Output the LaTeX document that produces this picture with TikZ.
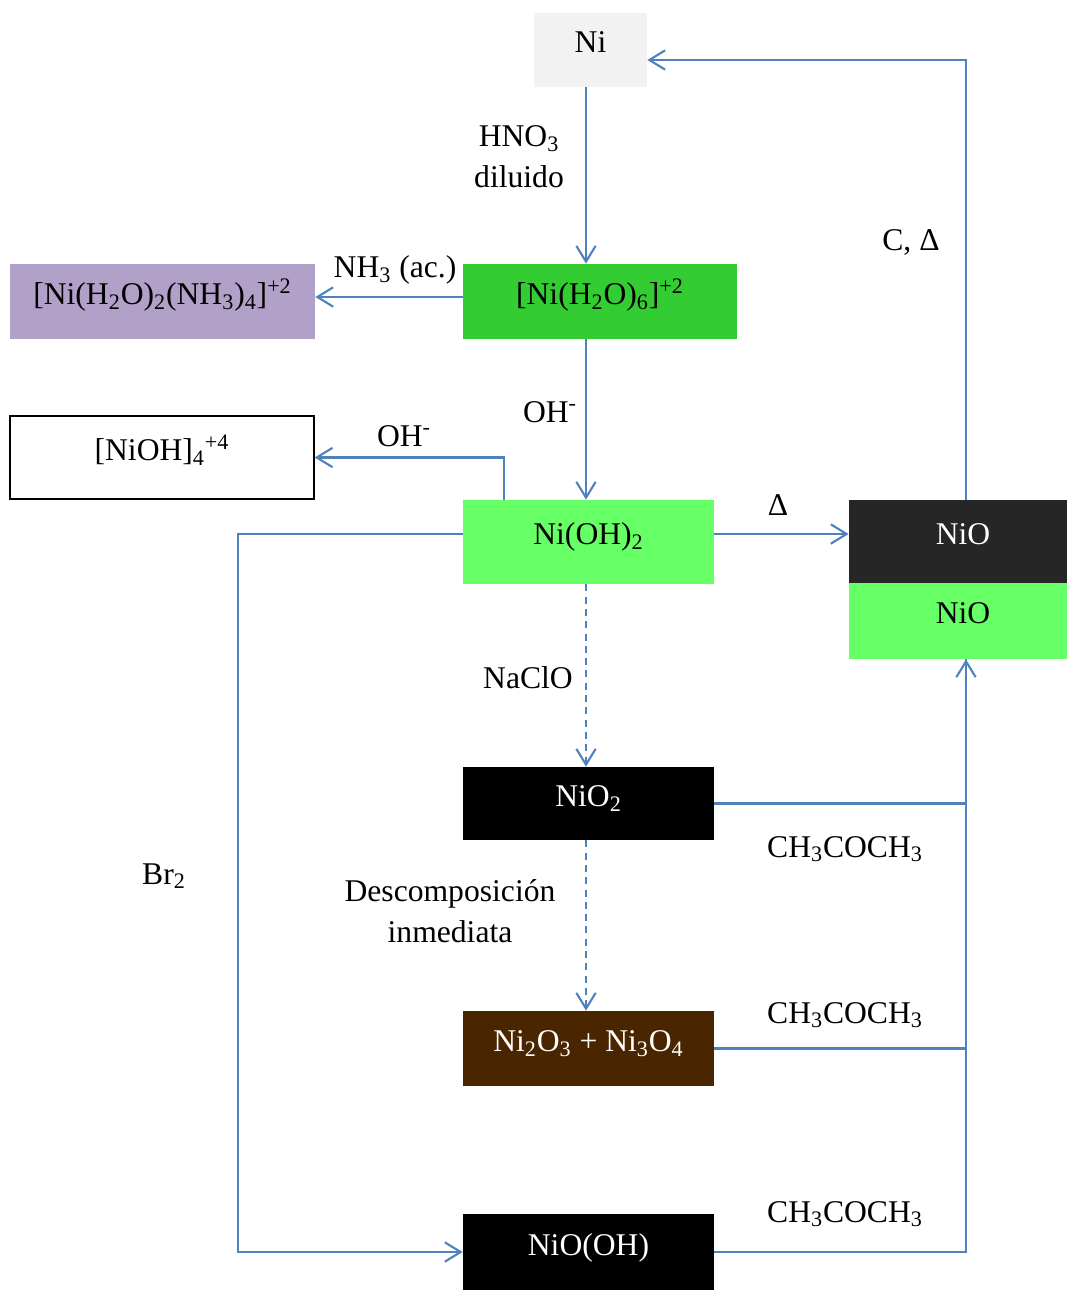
\documentclass[tikz,border=0pt]{standalone}
\usepackage{fontspec}
\setmainfont{Liberation Serif}
\usetikzlibrary{arrows.meta}

\definecolor{flowblue}{HTML}{4F81BD}
\definecolor{metalgray}{HTML}{F2F2F2}
\definecolor{hexagreen}{HTML}{33CC33}
\definecolor{amminelila}{HTML}{B1A0C7}
\definecolor{hydroxgreen}{HTML}{66FF66}
\definecolor{oxidegray}{HTML}{262626}
\definecolor{mixbrown}{HTML}{4A2600}

\tikzset{
  species/.style={rectangle, inner sep=0pt, text height=13pt, text depth=9.6pt,
    font=\fontsize{18}{23.4}\selectfont},
  reagent/.style={inner sep=0pt, align=center, font=\fontsize{18}{23.4}\selectfont},
  flow/.style={draw=flowblue, line width=1.2pt, -{Straight Barb[length=9pt,width=11pt]}},
  link/.style={draw=flowblue, line width=1.2pt},
  slow/.style={dash pattern=on 4pt off 3pt}
}

\begin{document}
\begin{tikzpicture}[x=0.02cm, y=-0.02cm]
\useasboundingbox (0,0) rectangle (1067,1290);

% nickel species
\node[species, fill=metalgray, minimum width=2.26cm, minimum height=1.48cm] (ni) at (590.5,50) {Ni};
\node[species, fill=hexagreen, minimum width=5.48cm, minimum height=1.5cm] (hexa) at (600,301.5)
  {[Ni(H\textsubscript{2}O)\textsubscript{6}]\textsuperscript{+2}};
\node[species, fill=amminelila, minimum width=6.1cm, minimum height=1.5cm] (ammine) at (162.5,301.5)
  {[Ni(H\textsubscript{2}O)\textsubscript{2}(NH\textsubscript{3})\textsubscript{4}]\textsuperscript{+2}};
\node[species, draw=black, line width=0.8pt, minimum width=6.08cm, minimum height=1.66cm] (tetramer) at (162,457.5)
  {[NiOH]\textsubscript{4}\textsuperscript{+4}};
\node[species, fill=hydroxgreen, minimum width=5.02cm, minimum height=1.68cm] (hydrox) at (588.5,542)
  {Ni(OH)\textsubscript{2}};
\node[species, fill=oxidegray, text=white, minimum width=4.56cm, minimum height=1.66cm] (niotop) at (963,541.5) {NiO};
\node[species, fill=hydroxgreen, minimum width=4.56cm, minimum height=1.52cm] (niobot) at (963,621) {NiO};
\node[species, fill=black, text=white, minimum width=5.02cm, minimum height=1.46cm] (dioxide) at (588.5,803.5)
  {NiO\textsubscript{2}};
\node[species, fill=mixbrown, text=white, minimum width=5.02cm, minimum height=1.5cm] (mixed) at (588.5,1048.5)
  {Ni\textsubscript{2}O\textsubscript{3} + Ni\textsubscript{3}O\textsubscript{4}};
\node[species, fill=black, text=white, minimum width=5.02cm, minimum height=1.52cm] (oxyhyd) at (588.5,1252)
  {NiO(OH)};

% guide lines for the vertical runs
\coordinate (spine) at (586,0);
\coordinate (riser) at (966,0);
\coordinate (bromo) at (238,0);

% reactions
\draw[flow] (ni.south -| spine) -- (hexa.north -| spine);
\draw[flow] ([yshift=0.09cm]hexa.west) -- ([yshift=0.09cm]ammine.east);
\draw[flow] (hexa.south -| spine) -- (hydrox.north -| spine);
\draw[flow] ([xshift=0.82cm]hydrox.north west) |- (tetramer.east);
\draw[flow] ([yshift=0.16cm]hydrox.east) -- ([yshift=0.16cm]hydrox.east -| niotop.west);
\draw[flow] (niotop.north -| riser) |- ([yshift=-0.2cm]ni.east);
\draw[flow, slow] (hydrox.south -| spine) -- (dioxide.north -| spine);
\draw[flow, slow] (dioxide.south -| spine) -- (mixed.north -| spine);
\draw[flow] ([yshift=0.16cm]hydrox.west) -| (bromo |- oxyhyd.west) -- (oxyhyd.west);

% acetone back to NiO
\draw[link] (dioxide.east) -| (niobot.south -| riser);
\draw[link] (mixed.east) -| (niobot.south -| riser);
\draw[flow] (oxyhyd.east) -| (niobot.south -| riser);

% reagents
\node[reagent] (hno3) at (519,157) {HNO\textsubscript{3}\\diluido};
\node[reagent, anchor=base] (nh3) at (395,278) {NH\textsubscript{3} (ac.)};
\node[reagent, anchor=base] (ohdown) at (550,422) {OH\textsuperscript{-}};
\node[reagent, anchor=base] (ohleft) at (404,446) {OH\textsuperscript{-}};
\node[reagent, anchor=base] (heat) at (778,515) {Δ};
\node[reagent, anchor=base] (carbon) at (911,251) {C, Δ};
\node[reagent, anchor=base] (hypo) at (528,688) {NaClO};
\node[reagent] (decomp) at (450,911) {Descomposición\\inmediata};
\node[reagent, anchor=base] (bromine) at (164,884) {Br\textsubscript{2}};
\foreach \y/\nm in {857/acetA, 1023/acetB, 1222/acetC}
  \node[reagent, anchor=base] (\nm) at (845,\y) {CH\textsubscript{3}COCH\textsubscript{3}};

\end{tikzpicture}
\end{document}
